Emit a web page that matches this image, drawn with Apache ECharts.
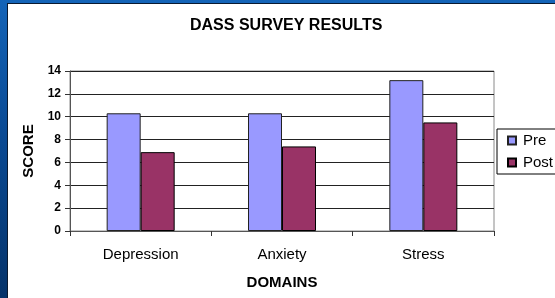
<!DOCTYPE html>
<html>
<head>
<meta charset="utf-8">
<script src="https://cdn.jsdelivr.net/npm/echarts@6/dist/echarts.min.js"></script>
<style>
html,body{margin:0;padding:0;width:555px;height:298px;overflow:hidden;}
body{background:linear-gradient(180deg,#1464b8 0%,#0a4a94 45%,#05336a 100%);position:relative;}
#frame{position:absolute;left:7px;top:3px;width:548px;height:295px;background:#fff;border-left:1px solid #0a1a30;border-top:1px solid #0a1a30;}
#chart{position:absolute;left:-8px;top:-4px;width:555px;height:298px;}
</style>
</head>
<body>
<div id="frame"><div id="chart"></div></div>
<script>
const categories = ['Depression', 'Anxiety', 'Stress'];
const preValues = [10.3, 10.3, 13.2];
const postValues = [6.9, 7.4, 9.5];
const yTicks = [0, 2, 4, 6, 8, 10, 12, 14];

const chart = echarts.init(document.getElementById('chart'), null, {renderer: 'canvas'});
const font = '"Liberation Sans", Arial, sans-serif';
chart.setOption({
  animation: false,
  backgroundColor: 'transparent',
  title: {
    text: 'DASS SURVEY RESULTS',
    left: 185, top: 13,
    textStyle: {fontFamily: font, fontSize: 16, fontWeight: 'bold', color: '#000'}
  },
  legend: {
    data: ['Pre', 'Post'],
    orient: 'vertical',
    left: 497, top: 129,
    padding: [4, 40, 4, 10],
    itemWidth: 8, itemHeight: 8, itemGap: 7,
    icon: 'rect',
    borderColor: '#000', borderWidth: 1,
    backgroundColor: '#fff',
    textStyle: {fontFamily: font, fontSize: 15, color: '#000', padding: [0, 0, 0, 2]}
  },
  grid: {
    left: 70, right: 61, top: 71, bottom: 67,
    containLabel: false,
    outerBoundsMode: 'none',
    show: true, borderColor: '#8a8a8a', borderWidth: 1, backgroundColor: '#fff'
  },
  xAxis: {
    type: 'category',
    data: categories,
    name: 'DOMAINS',
    nameLocation: 'middle',
    nameGap: 44,
    nameMoveOverlap: false,
    nameTextStyle: {fontFamily: font, fontSize: 15, fontWeight: 'bold', color: '#000'},
    axisLine: {lineStyle: {color: '#555', width: 1}},
    axisTick: {show: true, length: 5, lineStyle: {color: '#333'}},
    axisLabel: {fontFamily: font, fontSize: 15, color: '#000', margin: 16}
  },
  yAxis: {
    type: 'value',
    min: yTicks[0], max: yTicks[yTicks.length - 1], interval: 2,
    name: 'SCORE',
    nameLocation: 'middle',
    nameRotate: 90,
    nameGap: 34,
    nameMoveOverlap: false,
    nameTextStyle: {fontFamily: font, fontSize: 15, fontWeight: 'bold', color: '#000'},
    axisLine: {show: true, lineStyle: {color: '#555', width: 1}},
    axisTick: {show: true, length: 5, lineStyle: {color: '#333'}},
    axisLabel: {fontFamily: font, fontSize: 12, fontWeight: 'bold', color: '#000', margin: 9},
    splitLine: {show: true, lineStyle: {color: '#222', width: 1}}
  },
  series: [
    {name: 'Pre', type: 'bar', data: preValues, barWidth: 34, barGap: '0%',
     itemStyle: {color: '#9999ff', borderColor: '#222', borderWidth: 1}},
    {name: 'Post', type: 'bar', data: postValues, barWidth: 34,
     itemStyle: {color: '#993366', borderColor: '#000', borderWidth: 1}}
  ]
});
</script>
</body>
</html>
